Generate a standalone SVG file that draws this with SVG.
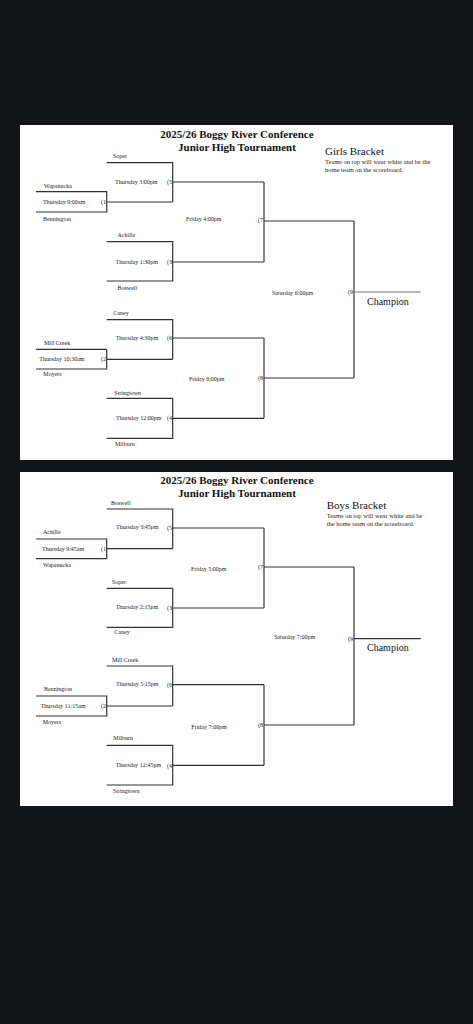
<svg xmlns="http://www.w3.org/2000/svg" width="473" height="1024" viewBox="0 0 473 1024">
<style>
.bg{fill:#131418}
.panel{fill:#ffffff}
.ln{fill:none;stroke:#333;stroke-width:1.2}
.lt{fill:none;stroke:#777;stroke-width:1.1}
text{font-family:"Liberation Serif","Times New Roman",serif;fill:#222}
.s{font-size:6px}
.n{font-size:6px;text-anchor:end}
.t{font-size:11px;font-weight:bold;text-anchor:middle;fill:#111}
.h{font-size:11px;fill:#111}
.c{font-size:10px;fill:#111}
.note{font-size:6.5px}
</style>
<rect class="bg" x="0" y="0" width="473" height="1024"/>
<rect class="panel" x="20" y="125" width="433" height="335"/>
<rect class="panel" x="20" y="472" width="433" height="334"/>

<!-- GIRLS -->
<g id="girls-header">
<text class="t" x="237" y="138">2025/26 Boggy River Conference</text>
<text class="t" x="237" y="150.5">Junior High Tournament</text>
<text class="h" x="325" y="154.5">Girls Bracket</text>
<text class="note" x="325" y="164.3">Teams on top will wear white and be the</text>
<text class="note" x="325" y="172">home team on the scoreboard.</text>
</g>
<g id="g-game1">
<path class="ln" d="M36,191.7H106.7V212H36"/>
<text class="s" x="44" y="188">Wapanucka</text>
<text class="s" x="43" y="204">Thursday 9:00am</text>
<text class="n" x="106" y="204">(1</text>
<text class="s" x="43" y="220.5">Bennington</text>
</g>
<g id="g-game5">
<path class="ln" d="M106.7,162.7H172.7V202"/>
<text class="s" x="113" y="158">Soper</text>
<text class="s" x="115" y="184">Thursday 3:00pm</text>
<text class="n" x="172" y="184">(5</text>
</g>
<g id="g-game3">
<path class="ln" d="M106.7,241.7H172.7V281H106.7"/>
<text class="s" x="117.5" y="237">Achille</text>
<text class="s" x="115.5" y="264">Thursday 1:30pm</text>
<text class="n" x="172" y="264">(3</text>
<text class="s" x="117.5" y="290">Boswell</text>
</g>
<g id="g-game2">
<path class="ln" d="M36,349.3H106.7V369H36"/>
<text class="s" x="44" y="344.5">Mill Creek</text>
<text class="s" x="39.3" y="361">Thursday 10:30am</text>
<text class="n" x="106" y="361">(2</text>
<text class="s" x="43.3" y="375.5">Moyers</text>
</g>
<g id="g-game6">
<path class="ln" d="M106.7,319.7H172.7V359.3"/>
<text class="s" x="113.3" y="314.5">Caney</text>
<text class="s" x="115.7" y="339.5">Thursday 4:30pm</text>
<text class="n" x="172" y="340">(6</text>
</g>
<g id="g-game4">
<path class="ln" d="M106.7,398.3H172.7V438.3H106.7"/>
<text class="s" x="114.3" y="394.5">Stringtown</text>
<text class="s" x="116" y="420">Thursday 12:00pm</text>
<text class="n" x="172" y="420">(4</text>
<text class="s" x="115" y="446">Milburn</text>
</g>
<g id="g-game7">
<path class="ln" d="M264,182V262"/>
<text class="s" x="186" y="221">Friday 4:00pm</text>
<text class="n" x="263" y="222">(7</text>
</g>
<g id="g-game8">
<path class="ln" d="M264,338V418.3"/>
<text class="s" x="189" y="381">Friday 6:00pm</text>
<text class="n" x="263" y="380">(8</text>
</g>
<g id="g-game9">
<path class="ln" d="M354,221V378"/>
<text class="s" x="272" y="295">Saturday 6:00pm</text>
<text class="n" x="353" y="294">(9</text>
</g>
<g id="g-champion">
<text class="c" x="367" y="304.5">Champion</text>
</g>

<!-- BOYS -->
<g id="boys-header">
<text class="t" x="237" y="484">2025/26 Boggy River Conference</text>
<text class="t" x="237" y="496.7">Junior High Tournament</text>
<text class="h" x="326.7" y="508.5">Boys Bracket</text>
<text class="note" x="326.7" y="517.7">Teams on top will wear white and be</text>
<text class="note" x="326.7" y="525.7">the home team on the scoreboard.</text>
</g>
<g id="b-game1">
<path class="ln" d="M36,539H106.7V558.7H36"/>
<text class="s" x="43" y="534">Achille</text>
<text class="s" x="42" y="551">Thursday 9:45am</text>
<text class="n" x="106" y="551">(1</text>
<text class="s" x="43" y="567">Wapanucka</text>
</g>
<g id="b-game5">
<path class="ln" d="M106.7,509H172.7V548.7"/>
<text class="s" x="111" y="504.7">Boswell</text>
<text class="s" x="116" y="529">Thursday 3:45pm</text>
<text class="n" x="172" y="529.5">(5</text>
</g>
<g id="b-game3">
<path class="ln" d="M106.7,588.3H172.7V627.3H106.7"/>
<text class="s" x="112" y="584">Soper</text>
<text class="s" x="115.7" y="609.3">Thursday 2:15pm</text>
<text class="n" x="172" y="609.5">(3</text>
<text class="s" x="114.3" y="633.7">Caney</text>
</g>
<g id="b-game2">
<path class="ln" d="M36,696H106.7V716H36"/>
<text class="s" x="44" y="691">Bennington</text>
<text class="s" x="40.7" y="708">Thursday 11:15am</text>
<text class="n" x="106" y="708">(2</text>
<text class="s" x="42.7" y="724">Moyers</text>
</g>
<g id="b-game6">
<path class="ln" d="M106.7,666H172.7V706"/>
<text class="s" x="112" y="662">Mill Creek</text>
<text class="s" x="116" y="686">Thursday 5:15pm</text>
<text class="n" x="172" y="686.5">(6</text>
</g>
<g id="b-game4">
<path class="ln" d="M106.7,745.3H172.7V785H106.7"/>
<text class="s" x="113.3" y="740.3">Milburn</text>
<text class="s" x="115.7" y="767.3">Thursday 12:45pm</text>
<text class="n" x="172" y="767.5">(4</text>
<text class="s" x="113" y="792.7">Stringtown</text>
</g>
<g id="b-game7">
<path class="ln" d="M264,528V608"/>
<text class="s" x="191" y="571">Friday 5:00pm</text>
<text class="n" x="263" y="568.5">(7</text>
</g>
<g id="b-game8">
<path class="ln" d="M264,684.7V765.3"/>
<text class="s" x="191.3" y="729">Friday 7:00pm</text>
<text class="n" x="263" y="727">(8</text>
</g>
<g id="b-game9">
<path class="ln" d="M354,567V725"/>
<text class="s" x="274" y="639">Saturday 7:00pm</text>
<text class="n" x="353" y="640.5">(9</text>
</g>
<g id="b-champion">
<text class="c" x="367" y="651">Champion</text>
</g>

<g id="connectors">
<path class="ln" d="M106.7,202H172.7M172.7,182H264M172.7,262H264M264,221H354M106.7,359.3H172.7M172.7,338H264M172.7,418.3H264M264,378H354"/>
<path class="lt" d="M354,292H420.7"/>
<path class="ln" d="M106.7,548.7H172.7M172.7,528H264M172.7,608H264M264,567H354M106.7,706H172.7M172.7,684.7H264M172.7,765.3H264M264,725H354M354,638.7H420.7"/>
</g>
</svg>
